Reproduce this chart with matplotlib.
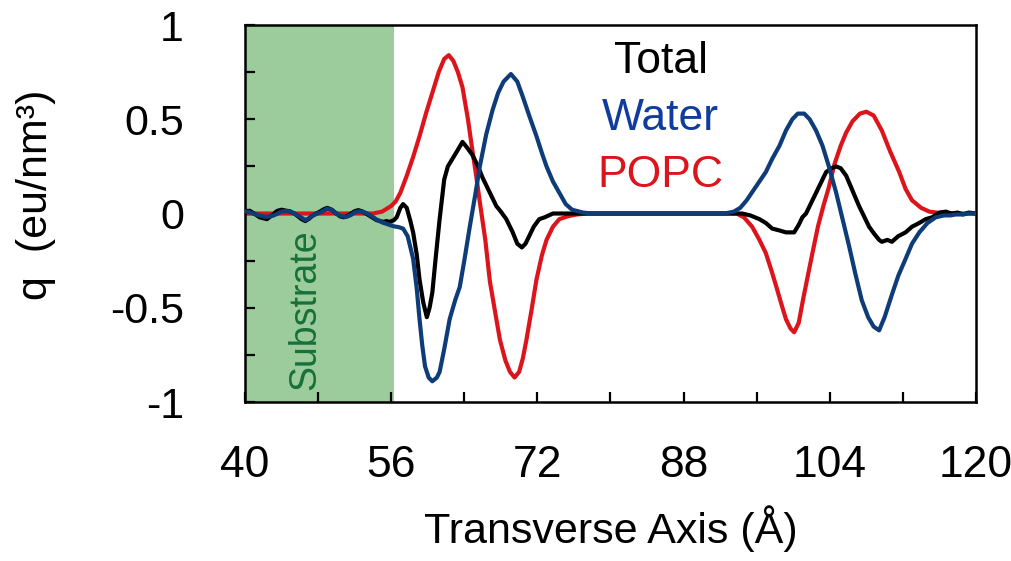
import matplotlib
matplotlib.use("Agg")
import matplotlib.pyplot as plt

plt.rcParams["font.family"] = ["Liberation Sans", "DejaVu Sans"]

# ---- data (x in Angstrom, y in eu/nm^3) ----
popc_x = [40, 54, 55, 56, 56.5, 57, 57.7, 58.4, 59.1, 59.8, 60.5, 61.2, 61.8,
          62.3, 62.8, 63.3, 63.8, 64.4, 64.9, 65.3, 65.7, 66.3, 66.8, 67.4,
          67.9, 68.5, 69.0, 69.5, 70.0, 70.4, 70.8, 71.4, 71.9, 72.5, 73.0,
          73.7, 74.4, 75.3, 76.3, 77.5, 93.8, 94.6, 95.5, 96.3, 97.0, 97.6,
          98.1, 98.7, 99.2, 99.7, 100.1, 100.6, 101.1, 101.6, 102.1, 102.7,
          103.3, 103.9, 104.5, 105.2, 105.8, 106.5, 107.3, 108.0, 108.8,
          109.7, 110.6, 111.6, 112.3, 113.0, 114.0, 114.9, 116, 118, 120]
popc_y = [0, 0, 0.01, 0.04, 0.065, 0.11, 0.20, 0.30, 0.41, 0.53, 0.64, 0.75,
          0.82, 0.84, 0.81, 0.75, 0.67, 0.50, 0.33, 0.20, 0.06, -0.14, -0.36,
          -0.53, -0.67, -0.78, -0.84, -0.87, -0.84, -0.77, -0.67, -0.50,
          -0.35, -0.22, -0.14, -0.07, -0.03, -0.015, -0.005, 0, 0, -0.02,
          -0.07, -0.14, -0.21, -0.30, -0.38, -0.48, -0.56, -0.61, -0.63,
          -0.58, -0.45, -0.33, -0.21, -0.07, 0.04, 0.14, 0.26, 0.36, 0.43,
          0.49, 0.53, 0.54, 0.52, 0.44, 0.33, 0.22, 0.13, 0.07, 0.03, 0.01,
          0.003, 0, 0]

water_x = [40.0, 40.5, 41.0, 41.6, 42.0, 42.4, 43.1, 43.6, 44.0, 44.5, 44.9,
           45.4, 45.8, 46.2, 46.6, 47.0, 47.3, 47.8, 48.2, 48.6, 49.0, 49.5,
           50.0, 50.4, 50.8, 51.1, 51.6, 52.0, 52.4, 52.8, 53.4, 53.9, 54.4,
           54.8, 55.1, 55.5, 55.8, 56.3, 56.8, 57.3, 57.8, 58.4, 58.8, 59.1,
           59.4, 59.7, 60.1, 60.5, 61.0, 61.3, 61.8, 62.4, 63.0, 63.5, 64.0,
           64.6, 65.2, 65.7, 66.4, 67.1, 67.7, 68.3, 69.1, 69.8, 70.4, 71.1,
           71.9, 72.5, 73.0, 73.7, 74.4, 75.1, 75.8, 77, 78, 92.5, 93.5,
           94.2, 94.9, 95.6, 96.3, 97.0, 97.7, 98.5, 99.2, 99.9, 100.5,
           101.2, 101.8, 102.5, 103.2, 103.9, 104.7, 105.4, 106.1, 106.8,
           107.5, 108.2, 108.8, 109.4, 110.0, 110.8, 111.5, 112.3, 113.0,
           113.8, 114.7, 115.6, 116.5, 117.2, 117.8, 118.5, 119.2, 120]
water_y = [0.012, 0.007, -0.002, -0.011, -0.015, -0.018, -0.011, 0.0, 0.011,
           0.013, 0.011, 0.0, -0.011, -0.022, -0.035, -0.025, -0.014, -0.002,
           0.004, 0.015, 0.025, 0.018, 0.0, -0.011, -0.016, -0.018, -0.008,
           0.006, 0.011, 0.011, 0.0, -0.015, -0.032, -0.042, -0.049, -0.055,
           -0.06, -0.068, -0.072, -0.08, -0.12, -0.24, -0.40, -0.56, -0.70,
           -0.81, -0.87, -0.89, -0.87, -0.84, -0.72, -0.56, -0.46, -0.39,
           -0.25, -0.07, 0.10, 0.25, 0.42, 0.55, 0.64, 0.70, 0.74, 0.70, 0.62,
           0.52, 0.41, 0.32, 0.25, 0.17, 0.11, 0.05, 0.02, 0.005, 0, 0, 0.01,
           0.03, 0.07, 0.12, 0.17, 0.22, 0.29, 0.36, 0.44, 0.50, 0.53, 0.53,
           0.50, 0.44, 0.36, 0.25, 0.11, -0.03, -0.17, -0.32, -0.46, -0.55,
           -0.60, -0.62, -0.55, -0.43, -0.33, -0.24, -0.16, -0.10, -0.05,
           -0.02, -0.01, -0.01, -0.005, -0.005, 0.0, 0.0]

total_x = [40.0, 40.3, 40.5, 41.0, 41.3, 41.6, 42.0, 42.4, 42.8, 43.1, 43.4,
           43.6, 44.0, 44.5, 44.9, 45.4, 45.8, 46.2, 46.6, 47.0, 47.3, 47.8,
           48.2, 48.6, 49.0, 49.5, 50.0, 50.4, 50.8, 51.1, 51.6, 52.0, 52.4,
           52.8, 53.4, 53.9, 54.4, 54.8, 55.1, 55.5, 55.8, 56.3, 56.6, 57.0,
           57.3, 57.7, 58.1, 58.4, 58.8, 59.1, 59.5, 59.9, 60.2, 60.5, 60.9,
           61.3, 61.8, 62.2, 62.7, 63.2, 63.8, 64.3, 64.9, 65.5, 66.0, 66.4,
           67.0, 67.5, 68.0, 68.6, 69.0, 69.3, 69.8, 70.3, 70.7, 71.1, 71.6,
           72.2, 72.8, 73.7, 94.4, 95.3, 96.3, 97.0, 97.7, 98.5, 99.2, 99.7,
           100.1, 100.6, 101.0, 101.4, 102.0, 102.5, 103.0, 103.6, 104.2,
           104.7, 105.2, 105.8, 106.5, 107.2, 107.8, 108.3, 108.9, 109.4,
           109.7, 110.3, 110.8, 111.5, 112.3, 113.0, 113.8, 114.5, 115.2,
           116.0, 116.7, 117.3, 118.0, 118.6, 119.2, 120]
total_y = [0.02, 0.01, 0.015, 0.0, -0.01, -0.02, -0.025, -0.03, -0.015,
           -0.005, 0.01, 0.015, 0.02, 0.015, 0.012, 0.0, -0.015, -0.03, -0.04,
           -0.028, -0.015, 0.0, 0.01, 0.022, 0.03, 0.02, 0.0, -0.015, -0.02,
           -0.015, 0.0, 0.012, 0.018, 0.012, -0.005, -0.02, -0.035, -0.04,
           -0.045, -0.04, -0.045, -0.035, -0.02, 0.03, 0.05, 0.03, -0.04,
           -0.10, -0.22, -0.35, -0.47, -0.55, -0.50, -0.42, -0.22, -0.03,
           0.18, 0.25, 0.29, 0.33, 0.38, 0.35, 0.31, 0.25, 0.19, 0.15, 0.09,
           0.04, 0.01, -0.03, -0.07, -0.10, -0.16, -0.18, -0.16, -0.12, -0.07,
           -0.03, -0.02, 0.0, 0.0, -0.01, -0.03, -0.05, -0.08, -0.09, -0.10,
           -0.10, -0.10, -0.06, -0.02, 0.0, 0.06, 0.11, 0.16, 0.22, 0.24,
           0.25, 0.24, 0.20, 0.12, 0.04, -0.02, -0.07, -0.11, -0.14, -0.15,
           -0.14, -0.15, -0.12, -0.10, -0.07, -0.05, -0.03, -0.02, 0.005,
           0.01, 0.0, 0.005, -0.005, 0.005, 0.0]

substrate_edge = 56.3
legend_labels = ["Total", "Water", "POPC"]
x_ticks = [40, 56, 72, 88, 104, 120]
x_minor = [48, 64, 80, 96, 112]
y_ticks = [-1, -0.5, 0, 0.5, 1]
y_tick_labels = ["-1", "-0.5", "0", "0.5", "1"]
y_minor = [-0.75, -0.25, 0.25, 0.75]

RED = "#dc141c"
NAVY = "#0e3c78"

fig = plt.figure(figsize=(10.12, 5.61), dpi=100)
ax = fig.add_axes([0.2421, 0.2834, 0.7223, 0.672])

ax.axvspan(40, substrate_edge, color="#9ccc9b", lw=0, zorder=0)
ax.plot(popc_x, popc_y, color=RED, lw=3, zorder=2)
ax.plot(total_x, total_y, color="black", lw=3, zorder=3)
ax.plot(water_x, water_y, color=NAVY, lw=3, zorder=4)

ax.text(46.6, -0.935, "Substrate", rotation=90, ha="center", va="bottom",
        fontsize=27, color="#17703a")

for label, yb, col in zip(legend_labels, [0.745, 0.443, 0.141],
                          ["black", "#0f3c9e", "#dc141c"]):
    ax.text(85.5, yb, label, ha="center", va="baseline", fontsize=32, color=col)

ax.set_xlim(40, 120)
ax.set_ylim(-1, 1)
ax.set_xticks(x_ticks)
ax.set_xticks(x_minor, minor=True)
ax.set_yticks(y_ticks)
ax.set_yticklabels(y_tick_labels)
ax.set_yticks(y_minor, minor=True)
ax.tick_params(which="both", direction="in", length=7, width=1.6,
               top=False, right=False)
ax.tick_params(axis="x", labelsize=32, pad=31)
ax.tick_params(axis="y", labelsize=31, pad=44)
for sp in ax.spines.values():
    sp.set_linewidth(1.8)

ax.set_xlabel("Transverse Axis (Å)", fontsize=31, labelpad=14)
fig.text(36 / 1012, 1 - 195 / 561, "q  (eu/nm³)", rotation=90,
         ha="center", va="center", fontsize=31)

fig.savefig("out.png", dpi=100)
